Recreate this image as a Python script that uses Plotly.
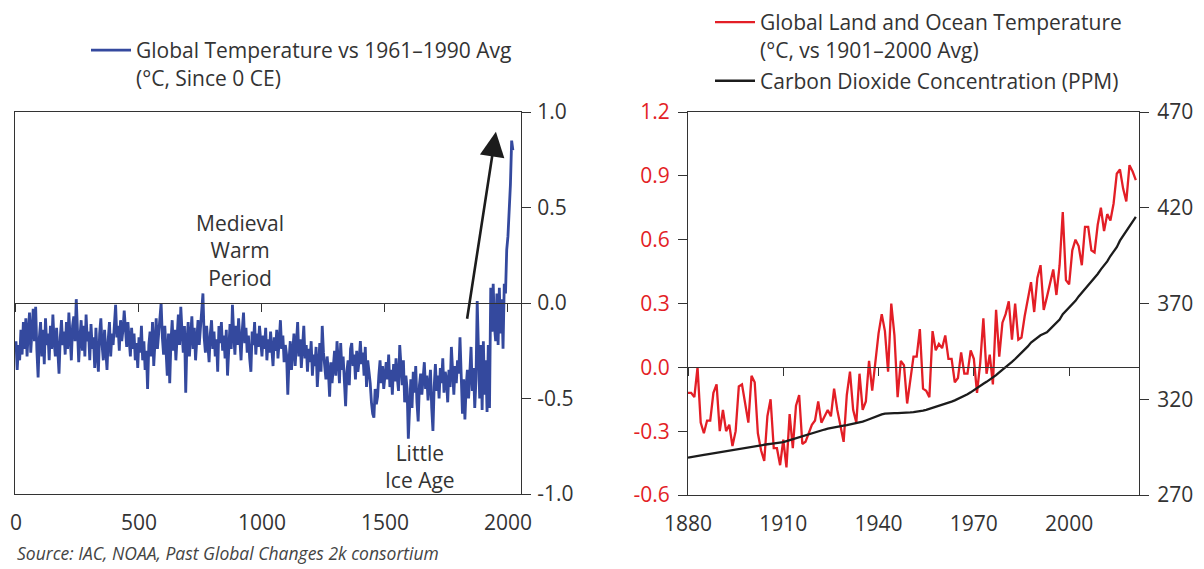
import plotly.graph_objects as go

# ---------------- data ----------------
# Left panel: global temperature vs 1961-1990 average, 0 CE - 2020 (5-year steps)
paleo_years = list(range(0, 2021, 5))
paleo_temp = [
    -0.20, -0.35, -0.22, -0.30, -0.14, -0.27, -0.10, -0.24, -0.08, -0.28,
    -0.15, -0.05, -0.26, -0.12, -0.03, -0.20, -0.02, -0.25, -0.39, -0.18,
    -0.10, -0.28, -0.14, -0.32, -0.08, -0.22, -0.16, -0.30, -0.12, -0.24,
    -0.06, -0.20, -0.28, -0.13, -0.25, -0.37, -0.18, -0.09, -0.22, -0.15,
    -0.27, -0.10, -0.24, -0.05, -0.18, -0.30, -0.12, -0.07, -0.20, 0.02,
    -0.14, -0.31, -0.18, -0.09, -0.25, -0.12, -0.28, -0.06, -0.20, -0.15,
    -0.30, -0.11, -0.24, -0.18, -0.34, -0.13, -0.27, -0.36, -0.16, -0.08,
    -0.22, -0.30, -0.14, -0.26, -0.35, -0.19, -0.10, -0.28, -0.16, -0.22,
    -0.07, -0.01, -0.18, -0.12, -0.25, -0.09, -0.20, -0.14, -0.04, -0.17,
    -0.23, -0.10, -0.19, -0.28, -0.13, -0.24, -0.16, -0.30, -0.21, -0.34,
    -0.18, -0.26, -0.12, -0.30, -0.20, -0.35, -0.25, -0.45, -0.22, -0.15,
    -0.28, -0.10, -0.33, -0.19, -0.08, -0.24, -0.14, -0.05, 0.00, -0.18,
    -0.27, -0.12, -0.22, -0.38, -0.16, -0.42, -0.20, -0.09, -0.25, -0.14,
    -0.30, -0.18, -0.06, -0.22, -0.02, -0.15, -0.26, -0.12, -0.47, -0.20,
    -0.10, -0.28, -0.17, -0.07, -0.24, -0.13, -0.30, -0.19, -0.09, -0.22,
    -0.14, -0.03, 0.05, -0.18, -0.26, -0.12, -0.20, -0.31, -0.16, -0.09,
    -0.24, -0.15, -0.28, -0.19, -0.36, -0.12, -0.21, -0.10, -0.25, -0.17,
    -0.29, -0.14, -0.38, -0.20, -0.11, -0.24, -0.01, -0.16, -0.27, -0.12,
    -0.22, -0.08, -0.19, -0.30, -0.14, -0.05, -0.21, -0.13, -0.26, -0.17,
    -0.29, -0.36, -0.15, -0.22, -0.10, -0.27, -0.16, -0.23, -0.12, -0.20,
    -0.28, -0.17, -0.24, -0.13, -0.30, -0.19, -0.26, -0.15, -0.22, -0.33,
    -0.18, -0.25, -0.14, -0.29, -0.20, -0.09, -0.24, -0.17, -0.31, -0.22,
    -0.27, -0.48, -0.30, -0.20, -0.35, -0.24, -0.16, -0.33, -0.21, -0.10,
    -0.28, -0.19, -0.34, -0.25, -0.12, -0.29, -0.22, -0.36, -0.24, -0.31,
    -0.20, -0.38, -0.27, -0.33, -0.23, -0.44, -0.30, -0.21, -0.36, -0.12,
    -0.26, -0.33, -0.40, -0.28, -0.36, -0.49, -0.31, -0.42, -0.34, -0.25,
    -0.38, -0.20, -0.30, -0.42, -0.21, -0.35, -0.28, -0.45, -0.54, -0.36,
    -0.30, -0.43, -0.24, -0.21, -0.33, -0.27, -0.40, -0.25, -0.36, -0.30,
    -0.20, -0.32, -0.26, -0.38, -0.23, -0.44, -0.30, -0.36, -0.42, -0.52,
    -0.58, -0.60, -0.45, -0.53, -0.49, -0.38, -0.30, -0.42, -0.33, -0.45,
    -0.37, -0.31, -0.40, -0.27, -0.44, -0.35, -0.48, -0.32, -0.41, -0.29,
    -0.39, -0.46, -0.22, -0.35, -0.43, -0.30, -0.52, -0.38, -0.45, -0.71,
    -0.50, -0.40, -0.55, -0.36, -0.47, -0.33, -0.52, -0.62, -0.43, -0.37,
    -0.48, -0.40, -0.31, -0.45, -0.38, -0.51, -0.42, -0.35, -0.55, -0.67,
    -0.44, -0.32, -0.46, -0.38, -0.50, -0.34, -0.42, -0.29, -0.47, -0.36,
    -0.40, -0.52, -0.35, -0.44, -0.23, -0.39, -0.48, -0.33, -0.42, -0.30,
    -0.37, -0.18, -0.45, -0.58, -0.40, -0.61, -0.44, -0.35, -0.50, -0.38,
    -0.23, -0.46, -0.34, -0.55, -0.40, 0.01, -0.30, -0.50, -0.22, -0.56,
    -0.20, -0.48, -0.30, -0.57, -0.22, -0.55, 0.08, -0.15, 0.10, -0.12,
    -0.20, 0.05, -0.22, 0.08, -0.16, 0.02, -0.24, 0.10, 0.05, 0.28,
    0.35, 0.47, 0.62, 0.85, 0.80,
]

# Right panel: NOAA land & ocean temperature anomaly (vs 1901-2000) and CO2 (ppm), 1880-2021
noaa_years = list(range(1880, 2022))
noaa_temp = [
    -0.12, -0.12, -0.14, 0.00, -0.26, -0.31, -0.25, -0.25, -0.12, -0.08,
    -0.30, -0.20, -0.30, -0.27, -0.37, -0.30, -0.09, -0.08, -0.17, -0.26,
    -0.04, -0.07, -0.31, -0.39, -0.44, -0.23, -0.15, -0.38, -0.38, -0.46,
    -0.34, -0.47, -0.22, -0.38, -0.18, -0.13, -0.36, -0.35, -0.31, -0.27,
    -0.25, -0.16, -0.26, -0.23, -0.20, -0.23, -0.10, -0.20, -0.27, -0.35,
    -0.13, -0.02, -0.20, -0.26, -0.03, -0.20, -0.16, 0.03, -0.11, 0.03,
    0.16, 0.25, 0.17, -0.02, 0.30, 0.15, -0.14, 0.03, 0.01, -0.17,
    -0.05, 0.05, 0.05, 0.18, -0.10, -0.11, -0.14, 0.17, 0.08, 0.11,
    0.09, 0.15, 0.04, 0.04, -0.07, -0.05, 0.07, -0.03, -0.03, 0.08,
    0.04, -0.12, 0.02, 0.23, -0.03, 0.06, -0.08, 0.27, 0.05, 0.21,
    0.25, 0.31, 0.13, 0.30, 0.13, 0.14, 0.24, 0.33, 0.40, 0.26,
    0.42, 0.48, 0.27, 0.33, 0.39, 0.46, 0.34, 0.48, 0.73, 0.41,
    0.39, 0.55, 0.60, 0.57, 0.48, 0.66, 0.66, 0.55, 0.54, 0.67,
    0.75, 0.64, 0.72, 0.69, 0.77, 0.91, 0.93, 0.84, 0.78, 0.95,
    0.92, 0.88,
]
co2_ppm = [
    289.5, 289.7, 290.0, 290.3, 290.6, 290.9, 291.2, 291.5, 291.8, 292.1,
    292.4, 292.7, 293.0, 293.3, 293.6, 293.9, 294.2, 294.5, 294.8, 295.1,
    295.4, 295.6, 295.8, 296.0, 296.2, 296.5, 296.7, 296.9, 297.1, 297.3,
    297.6, 298.1, 298.6, 299.1, 299.7, 300.3, 300.9, 301.4, 301.9, 302.5,
    303.0, 303.4, 303.8, 304.2, 304.6, 305.0, 305.3, 305.6, 305.9, 306.2,
    306.5, 306.8, 307.1, 307.4, 307.8, 308.3, 308.9, 309.6, 310.3, 311.0,
    311.6, 312.1, 312.5, 312.7, 312.8, 312.8, 312.8, 312.8, 312.9, 313.0,
    313.1, 313.3, 313.5, 313.8, 314.1, 314.5, 315.0, 315.5, 316.0, 316.5,
    317.0, 317.6, 318.2, 318.8, 319.4, 320.1, 320.9, 321.7, 322.6, 323.6,
    324.8, 325.8, 326.9, 328.1, 329.1, 330.2, 331.2, 332.6, 334.0, 335.3,
    336.8, 338.2, 339.5, 341.0, 342.6, 344.3, 345.8, 347.6, 349.6, 351.0,
    352.2, 353.4, 354.2, 355.0, 356.6, 358.3, 360.0, 361.6, 364.4, 366.2,
    367.6, 369.3, 371.4, 373.7, 375.6, 377.8, 379.8, 381.8, 383.6, 385.4,
    387.8, 389.7, 392.0, 394.8, 396.9, 399.4, 402.8, 405.2, 407.7, 410.6,
    413.0, 415.2,
]

# tick labels
left_x_ticks = [0, 500, 1000, 1500, 2000]
left_y_ticks = [-1.0, -0.5, 0.0, 0.5, 1.0]
left_y_labels = ["-1.0", "-0.5", "0.0", "0.5", "1.0"]
right_x_ticks = [1880, 1910, 1940, 1970, 2000]
right_y_ticks = [-0.6, -0.3, 0.0, 0.3, 0.6, 0.9, 1.2]
right_y_labels = ["-0.6", "-0.3", "0.0", "0.3", "0.6", "0.9", "1.2"]
co2_ticks = [270, 320, 370, 420, 470]

# ---------------- style ----------------
OFF = 8                      # page body margin in the browser
W, H = 1204 - OFF, 569 - OFF  # figure size so that page is 1204x569
FONT = "Open Sans"
FS = 21
TXT = "#333333"
AX = "#333333"
BLUE = "#34499E"
RED = "#E31E26"
BLACK = "#1C1C1C"


def px(x):
    return (x - OFF) / W


def py(y):
    return 1 - (y - OFF) / H


L_DOM_X = [px(15), px(521)]
L_DOM_Y = [py(494), py(112)]
R_DOM_X = [px(688), px(1139)]
R_DOM_Y = [py(495), py(112)]
L_XR = [-4, 2053]
R_XR = [1880, 2022]
L_YR = [-1, 1]
R_YR = [-0.6, 1.2]
CO2_R = [270, 470]
L_ZERO = L_DOM_Y[0] + (0 - L_YR[0]) / (L_YR[1] - L_YR[0]) * (L_DOM_Y[1] - L_DOM_Y[0])
R_ZERO = R_DOM_Y[0] + (0 - R_YR[0]) / (R_YR[1] - R_YR[0]) * (R_DOM_Y[1] - R_DOM_Y[0])

fig = go.Figure()

fig.add_trace(go.Scatter(
    x=paleo_years, y=paleo_temp, mode="lines",
    name="Global Temperature vs 1961\u20131990 Avg<br>(\u00b0C, Since 0 CE)",
    line=dict(color=BLUE, width=2.8), xaxis="x", yaxis="y", legend="legend",
))
# helper for the zero-line tick axis (invisible)
fig.add_trace(go.Scatter(
    x=paleo_years, y=paleo_temp, mode="lines", opacity=0, showlegend=False,
    hoverinfo="skip", xaxis="x3", yaxis="y",
))

fig.add_trace(go.Scatter(
    x=noaa_years, y=noaa_temp, mode="lines",
    name="Global Land and Ocean Temperature<br>(\u00b0C, vs 1901\u20132000 Avg)",
    line=dict(color=RED, width=2.3), xaxis="x2", yaxis="y2",
    legend="legend2", legendgroup="a",
))
fig.add_trace(go.Scatter(
    x=noaa_years, y=co2_ppm, mode="lines",
    name="Carbon Dioxide Concentration (PPM)",
    line=dict(color=BLACK, width=2.3), xaxis="x2", yaxis="y3",
    legend="legend2", legendgroup="b",
))
fig.add_trace(go.Scatter(
    x=noaa_years, y=noaa_temp, mode="lines", opacity=0, showlegend=False,
    hoverinfo="skip", xaxis="x4", yaxis="y2",
))

tickfont = dict(family=FONT, size=FS, color=TXT)
common = dict(showgrid=False, zeroline=False, linecolor=AX, linewidth=1,
              tickcolor=AX, tickwidth=1, tickfont=tickfont)

fig.update_layout(
    width=W, height=H,
    margin=dict(l=0, r=0, t=0, b=0, autoexpand=False),
    paper_bgcolor="white", plot_bgcolor="white",
    font=dict(family=FONT, size=FS, color=TXT),
    xaxis=dict(domain=L_DOM_X, range=L_XR, anchor="y", showline=True, mirror=True,
               ticks="", tickvals=left_x_ticks, ticklabelstandoff=10, **common),
    yaxis=dict(domain=L_DOM_Y, range=L_YR, anchor="x", side="right", showline=True,
               mirror=True, ticks="outside", ticklen=9, tickvals=left_y_ticks,
               ticktext=left_y_labels, ticklabelstandoff=2, **common),
    xaxis3=dict(overlaying="x", anchor="free", position=L_ZERO, range=L_XR,
                showline=True, ticks="outside", ticklen=8, tickvals=left_x_ticks,
                showticklabels=False, **common),
    xaxis2=dict(domain=R_DOM_X, range=R_XR, anchor="y2", showline=True, mirror=True,
                ticks="", tickvals=right_x_ticks, ticklabelstandoff=10, **common),
    yaxis2=dict(domain=R_DOM_Y, range=R_YR, anchor="x2", side="left", showline=True,
                ticks="outside", ticklen=9, tickvals=right_y_ticks,
                ticktext=right_y_labels, ticklabelstandoff=4,
                showgrid=False, zeroline=False, linecolor=AX, linewidth=1,
                tickcolor=AX, tickwidth=1,
                tickfont=dict(family=FONT, size=FS, color=RED)),
    yaxis3=dict(overlaying="y2", anchor="x2", side="right", range=CO2_R, showline=True,
                ticks="outside", ticklen=9, tickvals=co2_ticks, ticklabelstandoff=4,
                **common),
    xaxis4=dict(overlaying="x2", anchor="free", position=R_ZERO, range=R_XR,
                showline=True, ticks="outside", ticklen=8, tickvals=right_x_ticks,
                showticklabels=False, **common),
    legend=dict(x=px(86), y=py(30), xanchor="left", yanchor="top",
                bgcolor="rgba(0,0,0,0)", font=dict(family=FONT, size=FS, color=TXT),
                valign="top", itemwidth=40),
    legend2=dict(x=px(710), y=py(2), xanchor="left", yanchor="top",
                 bgcolor="rgba(0,0,0,0)", font=dict(family=FONT, size=FS, color=TXT),
                 valign="top", itemwidth=40, tracegroupgap=1, traceorder="grouped"),
    showlegend=True,
)

fig.add_annotation(x=910, y=0.276, xref="x", yref="y", text="Medieval<br>Warm<br>Period",
                   showarrow=False, align="center", font=dict(family=FONT, size=FS, color=TXT))
fig.add_annotation(x=1642, y=-0.854, xref="x", yref="y", text="Little<br>Ice Age",
                   showarrow=False, align="center", font=dict(family=FONT, size=FS, color=TXT))
fig.add_annotation(x=1951, y=0.896, xref="x", yref="y", ax=1833, ay=-0.09,
                   axref="x", ayref="y", text="", showarrow=True, arrowhead=2,
                   arrowsize=1.9, arrowwidth=2.6, arrowcolor=BLACK)
fig.add_annotation(x=px(15), y=py(553), xref="paper", yref="paper",
                   xanchor="left", yanchor="middle", showarrow=False,
                   text="<i>Source: IAC, NOAA, Past Global Changes 2k consortium</i>",
                   font=dict(family=FONT, size=17.5, color="#444444"))

fig.write_html("out.html")
